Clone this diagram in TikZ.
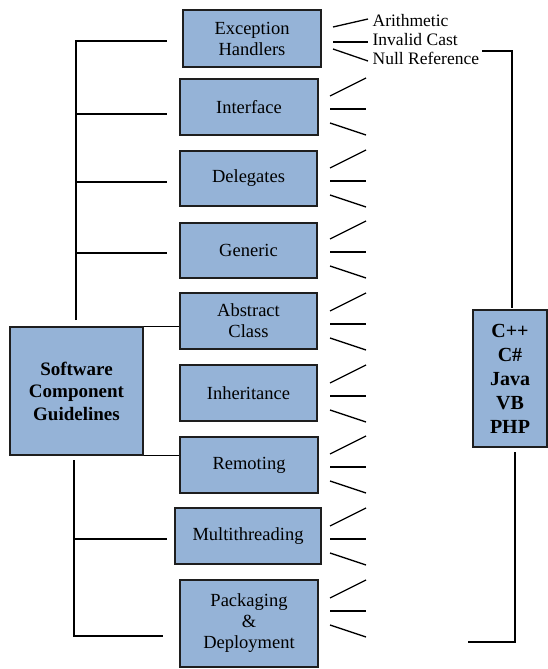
\documentclass[tikz,border=0pt]{standalone}
\usepackage{fontspec}
\setmainfont{Liberation Serif}
\definecolor{boxfill}{HTML}{95B3D7}
\definecolor{boxline}{HTML}{1E1E1E}
\newcommand\mkbox[7][]{\node[box,#1,minimum width={#5-#3},minimum height={#6-#4}] (#2) at ({(#3+#5)/2},{(#4+#6)/2}) {#7};}
\begin{document}
\begin{tikzpicture}[x=1pt,y=-1pt,line width=1.3pt,
  box/.style={draw=boxline,fill=boxfill,inner sep=0pt,align=center,font=\fontsize{18.5}{21}\selectfont},
  bbox/.style={font=\fontsize{19}{22.5}\selectfont\bfseries},
  lbox/.style={font=\fontsize{20}{24}\selectfont\bfseries},
  wire/.style={draw=black,line width=1.3pt},
  lab/.style={anchor=base west,inner sep=0pt,font=\fontsize{17.5}{19}\selectfont}]
\useasboundingbox (0,0) rectangle (548,669);
% boxes
\mkbox{EH}{183}{10}{321}{67}{Exception\\Handlers}
\mkbox{IF}{180}{79}{318}{135}{Interface}
\mkbox{DG}{180}{151}{317}{206}{Delegates}
\mkbox{GN}{180}{223}{317}{278}{Generic}
\mkbox{AC}{180}{293}{317}{349}{Abstract\\Class}
\mkbox{IN}{180}{365}{317}{421}{Inheritance}
\mkbox{RM}{180}{437}{318}{493}{Remoting}
\mkbox{MT}{175}{508}{321}{564}{Multithreading}
\mkbox{PK}{180}{580}{318}{667}{Packaging\\\&\\Deployment}
\mkbox[bbox]{SW}{10}{327}{143}{455}{Software\\Component\\Guidelines}
\mkbox[lbox]{LG}{473}{310}{547}{447}{C++\\C\#\\Java\\VB\\PHP}
% exception labels
\node[lab] (ar) at (372,27) {Arithmetic};
\node[lab] (ic) at (372,46) {Invalid Cast};
\node[lab] (nr) at (372,65) {Null Reference};
\draw[wire] (333,27) -- (368,19);
\draw[wire] (333,42) -- (368,42);
\draw[wire] (333,49) -- (368,61);
% fans
\foreach \r in {78,150,221,293,365,436,508,580}{
  \draw[wire] (330,\r+18) -- (366,\r);
  \draw[wire] (330,\r+31) -- (366,\r+31);
  \draw[wire] (330,\r+45) -- (366,\r+57);
}
% upper ladder
\coordinate (ut) at (76,41);
\coordinate (ub) at (76,320);
\draw[wire] (ub) -- (ut) -- (167,41);
\draw[wire] (76,114) -- (167,114);
\draw[wire] (76,182) -- (167,182);
\draw[wire] (76,253) -- (167,253);
% software box edges extended
\draw[wire] (SW.north east) -- (AC.west |- SW.north east);
\draw[wire] (SW.south east) -- (RM.west |- SW.south east);
% lower ladder
\coordinate (lt) at (74,460);
\coordinate (lb) at (74,636);
\draw[wire] (lt) -- (lb) -- (163,636);
\draw[wire] (74,539) -- (167,539);
% right bracket
\coordinate (rt) at (512,51);
\draw[wire] (482,51) -- (rt) -- (512,308);
\coordinate (rb) at (515,642);
\draw[wire] (515,452) -- (rb) -- (468,642);
\end{tikzpicture}
\end{document}
